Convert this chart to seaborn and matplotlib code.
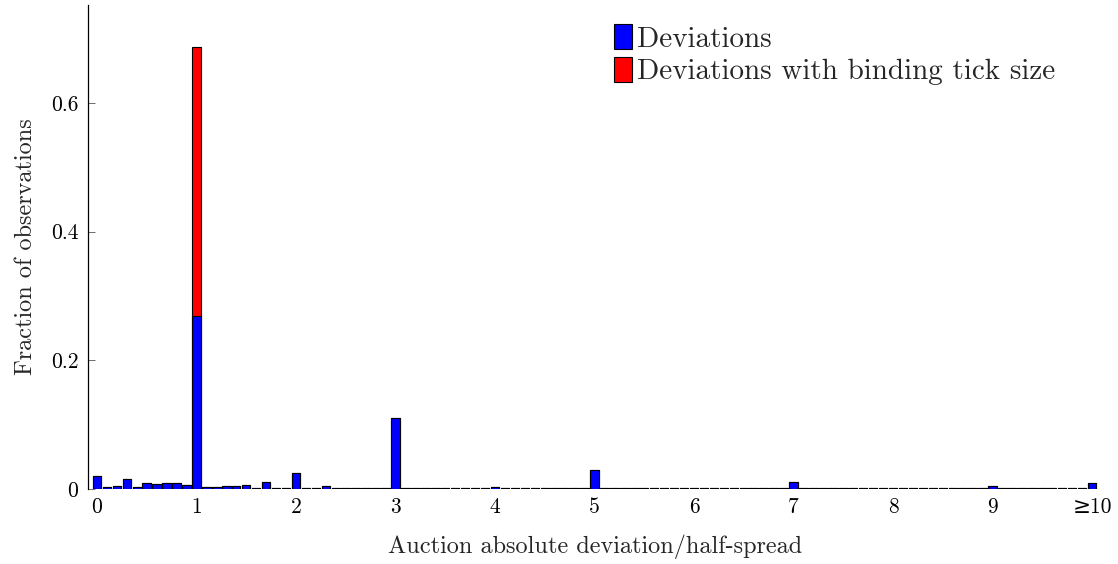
import numpy as np
import pandas as pd
import matplotlib
matplotlib.use("Agg")
import matplotlib.pyplot as plt
from matplotlib.patches import Patch
import seaborn as sns

# Bins of |auction deviation| / half-spread, width 0.1, last bin is ">= 10"
bins = [f"{v:.1f}" for v in np.arange(0, 101) / 10]

# Fraction of observations per bin (all deviations)
deviations = [
    0.020, 0.003, 0.005, 0.0155, 0.003, 0.009, 0.008, 0.009, 0.009, 0.006,
    0.269, 0.003, 0.003, 0.0045, 0.0045, 0.006, 0.0015, 0.011, 0.0015, 0.001,
    0.025, 0.001, 0.001, 0.004, 0.0008, 0.0008, 0.0008, 0.0008, 0.0008, 0.0008,
    0.111, 0.0008, 0.0008, 0.0008, 0.0008, 0.0008, 0.0008, 0.0008, 0.0008, 0.0008,
    0.0035, 0.0008, 0.0008, 0.0008, 0.0008, 0.0008, 0.0008, 0.0008, 0.0008, 0.0008,
    0.030, 0.0008, 0.0008, 0.0008, 0.0008, 0.0008, 0.0008, 0.0008, 0.0008, 0.0008,
    0.001, 0.0008, 0.0008, 0.0008, 0.0008, 0.0008, 0.0008, 0.0008, 0.0008, 0.0008,
    0.0105, 0.0008, 0.0008, 0.0008, 0.0008, 0.0008, 0.0008, 0.0008, 0.0008, 0.0008,
    0.0008, 0.0008, 0.0008, 0.0008, 0.0008, 0.0008, 0.0008, 0.0008, 0.0008, 0.0008,
    0.0047, 0.0008, 0.0008, 0.0008, 0.0008, 0.0008, 0.0008, 0.0008, 0.0008, 0.0008,
    0.009,
]

# Extra fraction where the tick size is binding (stacked on top)
binding = [0.0] * 101
binding[10] = 0.418

tick_positions = [0, 10, 20, 30, 40, 50, 60, 70, 80, 90, 100]
tick_labels = ["0", "1", "2", "3", "4", "5", "6", "7", "8", "9", "≥10"]
y_ticks = [0, 0.2, 0.4, 0.6]
y_tick_labels = ["0", "0.2", "0.4", "0.6"]

sns.set_theme(style="white")
plt.rcParams["font.family"] = ["cmr10", "DejaVu Serif"]
plt.rcParams["mathtext.fontset"] = "cm"
plt.rcParams["axes.formatter.use_mathtext"] = True

df = pd.DataFrame({"bin": bins, "dev": deviations, "bind": binding})
df["total"] = df["dev"] + df["bind"]

fig = plt.figure(figsize=(11.18, 5.64), dpi=100)
ax = fig.add_axes([0.0787, 0.133, 0.907, 0.858])

bar_kw = dict(width=0.85, edgecolor="black", linewidth=0.8, saturation=1, ax=ax)
sns.barplot(data=df, x="bin", y="total", color="#ff0000", order=bins, **bar_kw)
sns.barplot(data=df, x="bin", y="dev", color="#0000ff", order=bins, **bar_kw)

ax.set_xlim(-0.9, 101.0)
ax.set_ylim(0, 0.752)
ax.set_xticks(tick_positions)
ax.set_xticklabels(tick_labels, fontsize=15.5)
ax.set_yticks(y_ticks)
ax.set_yticklabels(y_tick_labels, fontsize=15.5)
ax.tick_params(axis="y", direction="in", length=5, width=0.6, color="#555555",
               left=True, pad=7, labelcolor="black")
ax.tick_params(axis="x", length=0, pad=6, labelcolor="black")

for side in ["top", "right", "bottom"]:
    ax.spines[side].set_visible(False)
ax.spines["left"].set_color("black")
ax.spines["left"].set_linewidth(0.9)

ax.set_xlabel("Auction absolute deviation/half-spread", fontsize=17.5, labelpad=13)
ax.set_ylabel("Fraction of observations", fontsize=17.5, labelpad=10)

handles = [
    Patch(facecolor="#0000ff", edgecolor="black", linewidth=0.8, label="Deviations"),
    Patch(facecolor="#ff0000", edgecolor="black", linewidth=0.8,
          label="Deviations with binding tick size"),
]
ax.legend(handles=handles, loc="upper left", bbox_to_anchor=(0.519, 0.96),
          frameon=False, fontsize=21, handlelength=0.62, handleheight=0.92,
          handletextpad=0.15, labelspacing=0.15, borderpad=0, borderaxespad=0)

fig.savefig("out.png", dpi=100)
